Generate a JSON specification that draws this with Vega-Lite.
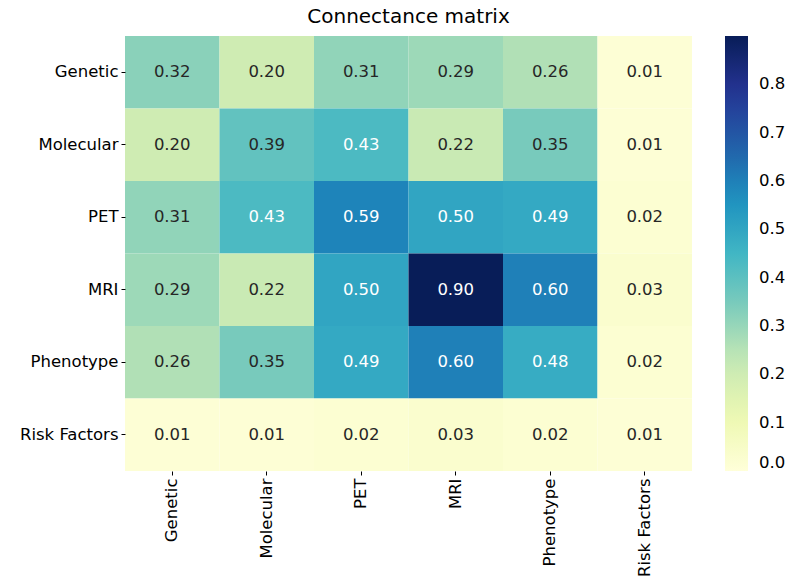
{
  "$schema": "https://vega.github.io/schema/vega-lite/v6.json",
  "autosize": {"type": "none"},
  "padding": {"left": 125, "top": 36, "right": 98, "bottom": 111},
  "width": 567,
  "height": 435,
  "background": "white",
  "title": {"text": "Connectance matrix", "fontSize": 20, "font": "DejaVu Sans", "fontWeight": "normal", "color": "#000", "offset": 9},
  "config": {"view": {"stroke": null}, "font": "DejaVu Sans"},
  "data": {"values": [
    {"row": "Genetic", "col": "Genetic", "v": 0.32},
    {"row": "Genetic", "col": "Molecular", "v": 0.20},
    {"row": "Genetic", "col": "PET", "v": 0.31},
    {"row": "Genetic", "col": "MRI", "v": 0.29},
    {"row": "Genetic", "col": "Phenotype", "v": 0.26},
    {"row": "Genetic", "col": "Risk Factors", "v": 0.01},
    {"row": "Molecular", "col": "Genetic", "v": 0.20},
    {"row": "Molecular", "col": "Molecular", "v": 0.39},
    {"row": "Molecular", "col": "PET", "v": 0.43},
    {"row": "Molecular", "col": "MRI", "v": 0.22},
    {"row": "Molecular", "col": "Phenotype", "v": 0.35},
    {"row": "Molecular", "col": "Risk Factors", "v": 0.01},
    {"row": "PET", "col": "Genetic", "v": 0.31},
    {"row": "PET", "col": "Molecular", "v": 0.43},
    {"row": "PET", "col": "PET", "v": 0.59},
    {"row": "PET", "col": "MRI", "v": 0.50},
    {"row": "PET", "col": "Phenotype", "v": 0.49},
    {"row": "PET", "col": "Risk Factors", "v": 0.02},
    {"row": "MRI", "col": "Genetic", "v": 0.29},
    {"row": "MRI", "col": "Molecular", "v": 0.22},
    {"row": "MRI", "col": "PET", "v": 0.50},
    {"row": "MRI", "col": "MRI", "v": 0.90},
    {"row": "MRI", "col": "Phenotype", "v": 0.60},
    {"row": "MRI", "col": "Risk Factors", "v": 0.03},
    {"row": "Phenotype", "col": "Genetic", "v": 0.26},
    {"row": "Phenotype", "col": "Molecular", "v": 0.35},
    {"row": "Phenotype", "col": "PET", "v": 0.49},
    {"row": "Phenotype", "col": "MRI", "v": 0.60},
    {"row": "Phenotype", "col": "Phenotype", "v": 0.48},
    {"row": "Phenotype", "col": "Risk Factors", "v": 0.02},
    {"row": "Risk Factors", "col": "Genetic", "v": 0.01},
    {"row": "Risk Factors", "col": "Molecular", "v": 0.01},
    {"row": "Risk Factors", "col": "PET", "v": 0.02},
    {"row": "Risk Factors", "col": "MRI", "v": 0.03},
    {"row": "Risk Factors", "col": "Phenotype", "v": 0.02},
    {"row": "Risk Factors", "col": "Risk Factors", "v": 0.01}
  ]},
  "encoding": {
    "x": {"field": "col", "type": "nominal", "sort": ["Genetic", "Molecular", "PET", "MRI", "Phenotype", "Risk Factors"],
      "scale": {"paddingInner": 0, "paddingOuter": 0},
      "axis": {"title": null, "labelAngle": -90, "labelFontSize": 16.5, "labelColor": "#000", "domain": false, "tickSize": 4, "tickColor": "#000", "labelPadding": 3}},
    "y": {"field": "row", "type": "nominal", "sort": ["Genetic", "Molecular", "PET", "MRI", "Phenotype", "Risk Factors"],
      "scale": {"paddingInner": 0, "paddingOuter": 0},
      "axis": {"title": null, "labelFontSize": 16.5, "labelColor": "#000", "domain": false, "tickSize": 4, "tickColor": "#000", "labelPadding": 3}}
  },
  "layer": [
    {
      "mark": {"type": "rect"},
      "encoding": {
        "color": {"field": "v", "type": "quantitative",
          "scale": {"domain": [0, 0.11245, 0.2249, 0.33735, 0.4498, 0.56225, 0.6747, 0.78715, 0.8996],
                    "range": ["#ffffd9", "#edf8b1", "#c7e9b4", "#7fcdbb", "#41b6c4", "#1d91c0", "#225ea8", "#253494", "#081d58"],
                    "interpolate": "rgb"},
          "legend": {"title": null, "orient": "right", "offset": 33, "gradientLength": 435, "gradientThickness": 23,
            "values": [0, 0.1, 0.2, 0.3, 0.4, 0.5, 0.6, 0.7, 0.8], "format": ".1f", "labelFontSize": 16.5, "labelColor": "#000", "labelOffset": 11, "gradientStrokeWidth": 0}}
      }
    },
    {
      "mark": {"type": "text", "fontSize": 16.5},
      "encoding": {
        "text": {"field": "v", "type": "quantitative", "format": ".2f"},
        "color": {"condition": {"test": "datum.v > 0.4", "value": "#ffffff"}, "value": "#262626"}
      }
    }
  ]
}
